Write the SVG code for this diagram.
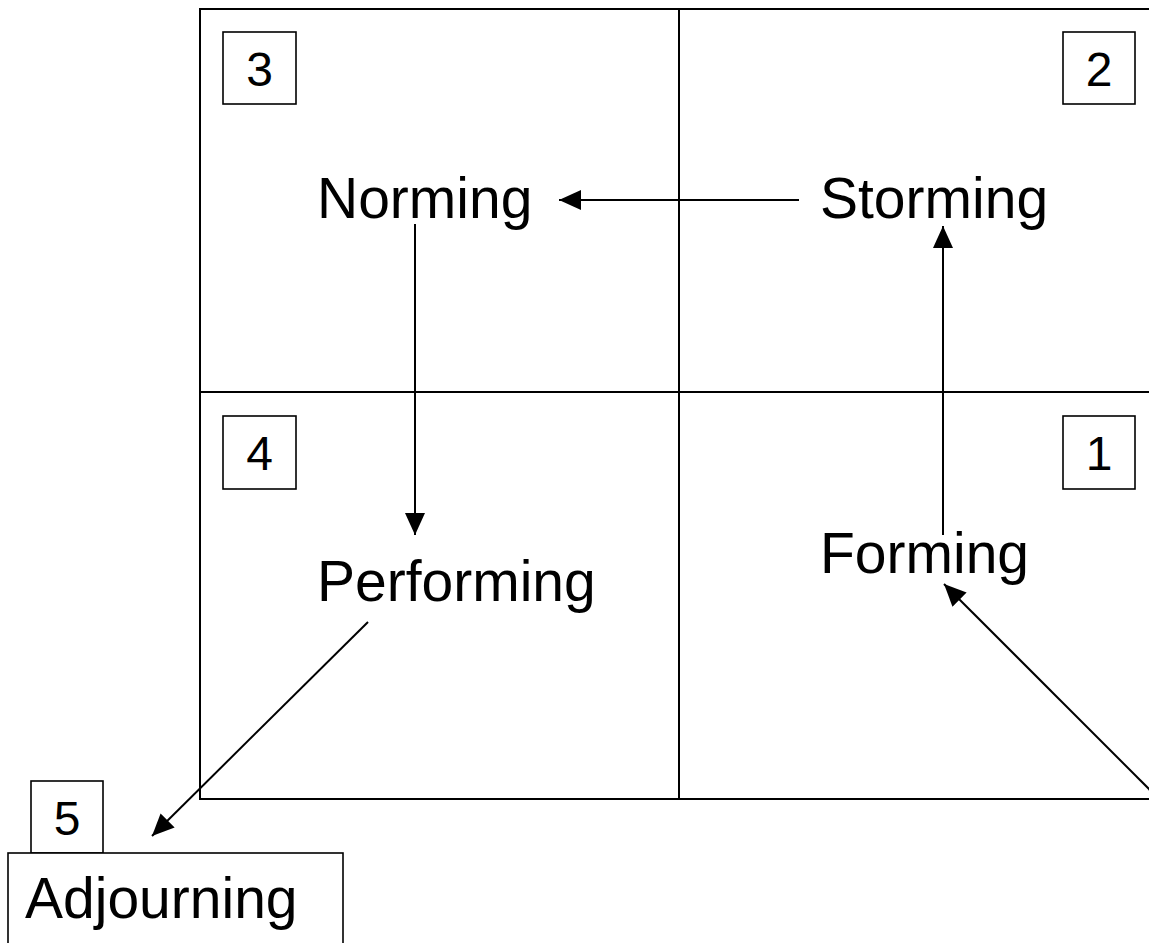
<svg xmlns="http://www.w3.org/2000/svg" width="1149" height="943" viewBox="0 0 1149 943">
<defs>
<marker id="ah" markerWidth="22" markerHeight="20" refX="22" refY="10" orient="auto" markerUnits="userSpaceOnUse">
<path d="M0,0 L22,10 L0,20 Z" fill="#000"/>
</marker>
<style>
.grid{fill:none;stroke:#000;stroke-width:2}
.box{fill:#fff;stroke:#000;stroke-width:1.6}
.num{font-family:"Liberation Sans",Arial,sans-serif;font-size:48px;fill:#000;text-anchor:middle}
.lbl{font-family:"Liberation Sans",Arial,sans-serif;font-size:57px;fill:#000}
.conn{stroke:#000;stroke-width:2;fill:none;marker-end:url(#ah)}
</style>
</defs>
<rect width="1149" height="943" fill="#fff"/>
<g id="grid">
<rect class="grid" x="200" y="9" width="1000" height="790"/>
<line class="grid" x1="679" y1="9" x2="679" y2="799"/>
<line class="grid" x1="200" y1="392" x2="1200" y2="392"/>
</g>
<g id="connectors">
<line class="conn" x1="799" y1="200" x2="559" y2="200"/>
<line class="conn" x1="415" y1="224" x2="415" y2="535"/>
<line class="conn" x1="943" y1="535" x2="943" y2="226"/>
<line class="conn" x1="1160" y1="800" x2="944" y2="584"/>
<line class="conn" x1="368" y1="622" x2="152" y2="836"/>
</g>
<g id="box3"><rect class="box" x="223" y="32" width="73" height="72"/><text class="num" x="259.5" y="86">3</text></g>
<g id="box2"><rect class="box" x="1063" y="32" width="72" height="72"/><text class="num" x="1099" y="86">2</text></g>
<g id="box4"><rect class="box" x="223" y="416" width="73" height="73"/><text class="num" x="259.5" y="470">4</text></g>
<g id="box1"><rect class="box" x="1063" y="416" width="72" height="73"/><text class="num" x="1099" y="470">1</text></g>
<g id="norming"><text class="lbl" x="317" y="218">Norming</text></g>
<g id="storming"><text class="lbl" x="820" y="218">Storming</text></g>
<g id="performing"><text class="lbl" x="317" y="601">Performing</text></g>
<g id="forming"><text class="lbl" x="820" y="573">Forming</text></g>
<g id="adjourning">
<rect class="box" x="31" y="781" width="72" height="72"/><text class="num" x="67" y="835">5</text>
<rect class="box" x="8" y="853" width="335" height="100"/>
<text class="lbl" x="25" y="918">Adjourning</text>
</g>
</svg>
